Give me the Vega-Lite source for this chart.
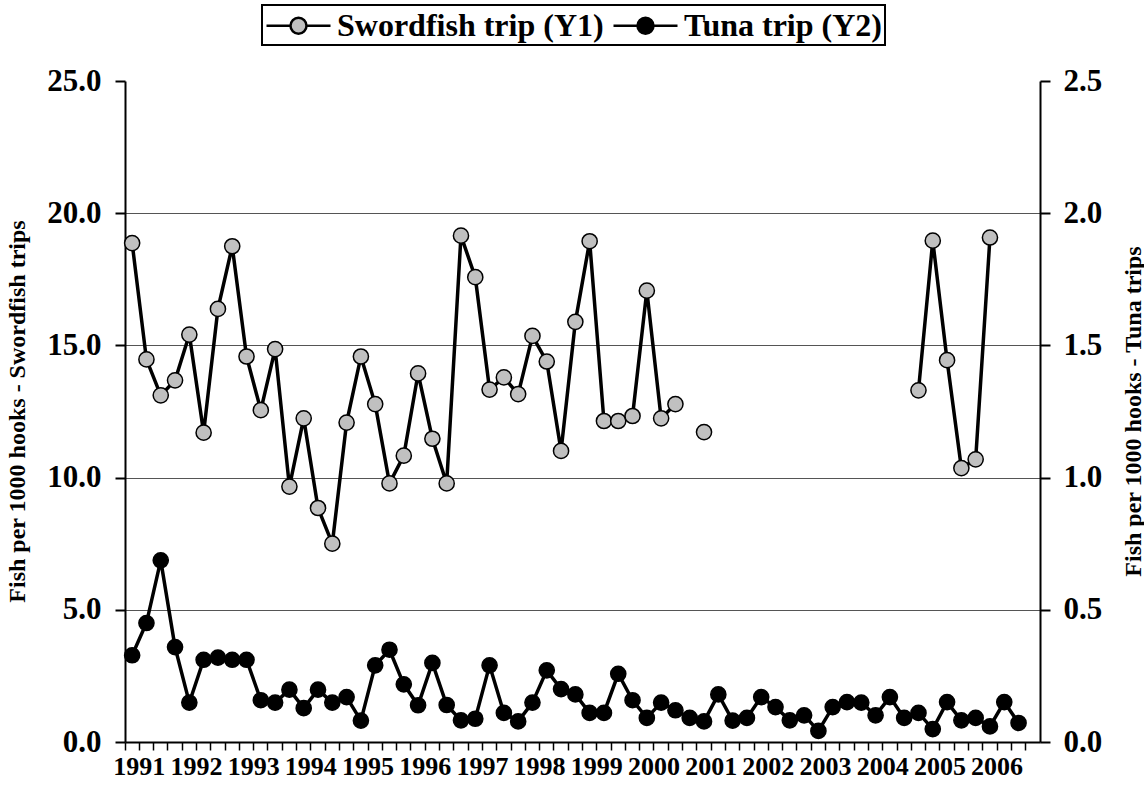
{
  "$schema": "https://vega.github.io/schema/vega-lite/v6.json",
  "autosize": {"type": "none"},
  "width": 915,
  "height": 661,
  "padding": {"left": 125, "top": 81, "right": 104, "bottom": 44},
  "background": "white",
  "config": {
    "view": {"stroke": null},
    "font": "Liberation Serif",
    "axis": {
      "labelFont": "Liberation Serif",
      "labelFontWeight": "bold",
      "labelColor": "black",
      "titleFont": "Liberation Serif",
      "titleFontWeight": "bold",
      "titleColor": "black",
      "domainColor": "black",
      "domainWidth": 2,
      "tickColor": "black",
      "tickWidth": 2
    },
    "legend": {"strokeWidth": 2}
  },
  "data": {
    "values": [
      {"q": "1991-1", "sword": 18.87, "tuna": 0.328},
      {"q": "1991-2", "sword": 14.47, "tuna": 0.45},
      {"q": "1991-3", "sword": 13.11, "tuna": 0.687},
      {"q": "1991-4", "sword": 13.68, "tuna": 0.359},
      {"q": "1992-1", "sword": 15.41, "tuna": 0.149},
      {"q": "1992-2", "sword": 11.7, "tuna": 0.311},
      {"q": "1992-3", "sword": 16.38, "tuna": 0.319},
      {"q": "1992-4", "sword": 18.75, "tuna": 0.311},
      {"q": "1993-1", "sword": 14.58, "tuna": 0.311},
      {"q": "1993-2", "sword": 12.55, "tuna": 0.158},
      {"q": "1993-3", "sword": 14.86, "tuna": 0.149},
      {"q": "1993-4", "sword": 9.66, "tuna": 0.198},
      {"q": "1994-1", "sword": 12.24, "tuna": 0.128},
      {"q": "1994-2", "sword": 8.85, "tuna": 0.198},
      {"q": "1994-3", "sword": 7.5, "tuna": 0.149},
      {"q": "1994-4", "sword": 12.08, "tuna": 0.17},
      {"q": "1995-1", "sword": 14.58, "tuna": 0.081},
      {"q": "1995-2", "sword": 12.78, "tuna": 0.29},
      {"q": "1995-3", "sword": 9.78, "tuna": 0.349},
      {"q": "1995-4", "sword": 10.83, "tuna": 0.218},
      {"q": "1996-1", "sword": 13.94, "tuna": 0.139},
      {"q": "1996-2", "sword": 11.47, "tuna": 0.299},
      {"q": "1996-3", "sword": 9.78, "tuna": 0.14},
      {"q": "1996-4", "sword": 19.15, "tuna": 0.082},
      {"q": "1997-1", "sword": 17.58, "tuna": 0.088},
      {"q": "1997-2", "sword": 13.33, "tuna": 0.29},
      {"q": "1997-3", "sword": 13.79, "tuna": 0.11},
      {"q": "1997-4", "sword": 13.16, "tuna": 0.078},
      {"q": "1998-1", "sword": 15.36, "tuna": 0.149},
      {"q": "1998-2", "sword": 14.39, "tuna": 0.271},
      {"q": "1998-3", "sword": 11.01, "tuna": 0.2},
      {"q": "1998-4", "sword": 15.89, "tuna": 0.18},
      {"q": "1999-1", "sword": 18.94, "tuna": 0.11},
      {"q": "1999-2", "sword": 12.14, "tuna": 0.11},
      {"q": "1999-3", "sword": 12.14, "tuna": 0.258},
      {"q": "1999-4", "sword": 12.33, "tuna": 0.158},
      {"q": "2000-1", "sword": 17.07, "tuna": 0.091},
      {"q": "2000-2", "sword": 12.24, "tuna": 0.149},
      {"q": "2000-3", "sword": 12.78, "tuna": 0.12},
      {"q": "2000-4", "sword": null, "tuna": 0.091},
      {"q": "2001-1", "sword": 11.72, "tuna": 0.078},
      {"q": "2001-2", "sword": null, "tuna": 0.18},
      {"q": "2001-3", "sword": null, "tuna": 0.081},
      {"q": "2001-4", "sword": null, "tuna": 0.091},
      {"q": "2002-1", "sword": null, "tuna": 0.17},
      {"q": "2002-2", "sword": null, "tuna": 0.132},
      {"q": "2002-3", "sword": null, "tuna": 0.082},
      {"q": "2002-4", "sword": null, "tuna": 0.101},
      {"q": "2003-1", "sword": null, "tuna": 0.042},
      {"q": "2003-2", "sword": null, "tuna": 0.132},
      {"q": "2003-3", "sword": null, "tuna": 0.151},
      {"q": "2003-4", "sword": null, "tuna": 0.149},
      {"q": "2004-1", "sword": null, "tuna": 0.101},
      {"q": "2004-2", "sword": null, "tuna": 0.17},
      {"q": "2004-3", "sword": null, "tuna": 0.091},
      {"q": "2004-4", "sword": 13.3, "tuna": 0.11},
      {"q": "2005-1", "sword": 18.96, "tuna": 0.049},
      {"q": "2005-2", "sword": 14.44, "tuna": 0.151},
      {"q": "2005-3", "sword": 10.36, "tuna": 0.082},
      {"q": "2005-4", "sword": 10.69, "tuna": 0.091},
      {"q": "2006-1", "sword": 19.08, "tuna": 0.059},
      {"q": "2006-2", "sword": null, "tuna": 0.151},
      {"q": "2006-3", "sword": null, "tuna": 0.072},
      {"q": "2006-4", "sword": null, "tuna": null}
    ]
  },
  "encoding": {
    "x": {
      "field": "q",
      "type": "ordinal",
      "scale": {
        "type": "band",
        "paddingInner": 0,
        "paddingOuter": 0,
        "domain": ["1991-1","1991-2","1991-3","1991-4","1992-1","1992-2","1992-3","1992-4","1993-1","1993-2","1993-3","1993-4","1994-1","1994-2","1994-3","1994-4","1995-1","1995-2","1995-3","1995-4","1996-1","1996-2","1996-3","1996-4","1997-1","1997-2","1997-3","1997-4","1998-1","1998-2","1998-3","1998-4","1999-1","1999-2","1999-3","1999-4","2000-1","2000-2","2000-3","2000-4","2001-1","2001-2","2001-3","2001-4","2002-1","2002-2","2002-3","2002-4","2003-1","2003-2","2003-3","2003-4","2004-1","2004-2","2004-3","2004-4","2005-1","2005-2","2005-3","2005-4","2006-1","2006-2","2006-3","2006-4"]
      },
      "axis": {
        "title": null,
        "bandPosition": 0,
        "labelOffset": 7.15,
        "labelAngle": 0,
        "labelOverlap": false,
        "labelFontSize": 26,
        "labelPadding": 3,
        "tickSize": 8,
        "tickWidth": 1.5,
        "grid": false,
        "labelExpr": "substring(datum.value,5,6) == '1' ? substring(datum.value,0,4) : ''"
      }
    }
  },
  "layer": [
    {
      "encoding": {
        "y": {
          "field": "sword",
          "type": "quantitative",
          "scale": {"domain": [0, 25], "nice": false, "zero": true},
          "axis": {
            "orient": "left",
            "values": [0, 5, 10, 15, 20, 25],
            "format": ".1f",
            "labelFontSize": 31,
            "labelPadding": 14,
            "tickSize": 10,
            "grid": true,
            "gridColor": "#555555",
            "gridWidth": 1,
            "gridOpacity": {"condition": {"test": "datum.value == 25 || datum.value == 0", "value": 0}, "value": 1},
            "title": "Fish per 1000 hooks - Swordfish trips",
            "titleFontSize": 24,
            "titleAngle": -90,
            "titleBaseline": "top",
            "titleAlign": "center",
            "titleX": -120,
            "titleY": 330
          }
        }
      },
      "layer": [
        {"mark": {"type": "line", "color": "black", "strokeWidth": 3.5}},
        {
          "mark": {"type": "point", "shape": "circle", "filled": true, "size": 230, "stroke": "black", "strokeWidth": 1.5, "opacity": 1},
          "encoding": {
            "fill": {
              "datum": "Swordfish trip (Y1)",
              "type": "nominal",
              "scale": {"domain": ["Swordfish trip (Y1)", "Tuna trip (Y2)"], "range": ["#c0c0c0", "#000000"]},
              "legend": {
                "title": null,
                "orient": "none",
                "direction": "horizontal",
                "legendX": 137,
                "legendY": -76,
                "strokeColor": "black",
                "padding": 3,
                "columnPadding": 4,
                "labelOffset": 37,
                "labelFont": "Liberation Serif",
                "labelFontWeight": "bold",
                "labelFontSize": 32,
                "labelColor": "black",
                "labelLimit": 600,
                "symbolType": "M-1,0H0.5M1.5,0H3M0.5,0A0.5,0.5 0 1,0 1.5,0A0.5,0.5 0 1,0 0.5,0Z",
                "symbolSize": 1024,
                "symbolStrokeColor": "black",
                "symbolStrokeWidth": 2.5
              }
            }
          }
        }
      ]
    },
    {
      "encoding": {
        "y": {
          "field": "tuna",
          "type": "quantitative",
          "scale": {"domain": [0, 2.5], "nice": false, "zero": true},
          "axis": {
            "orient": "right",
            "values": [0, 0.5, 1, 1.5, 2, 2.5],
            "format": ".1f",
            "labelFontSize": 31,
            "labelPadding": 13,
            "tickSize": 10,
            "grid": false,
            "title": "Fish per 1000 hooks - Tuna trips",
            "titleFontSize": 24,
            "titleAngle": -90,
            "titleBaseline": "top",
            "titleAlign": "center",
            "titleX": 81,
            "titleY": 330
          }
        }
      },
      "layer": [
        {"mark": {"type": "line", "color": "black", "strokeWidth": 3.5}},
        {
          "mark": {"type": "point", "shape": "circle", "filled": true, "size": 230, "stroke": "black", "strokeWidth": 1.5, "opacity": 1},
          "encoding": {
            "fill": {"datum": "Tuna trip (Y2)", "type": "nominal"}
          }
        }
      ]
    }
  ],
  "resolve": {"scale": {"y": "independent"}}
}
